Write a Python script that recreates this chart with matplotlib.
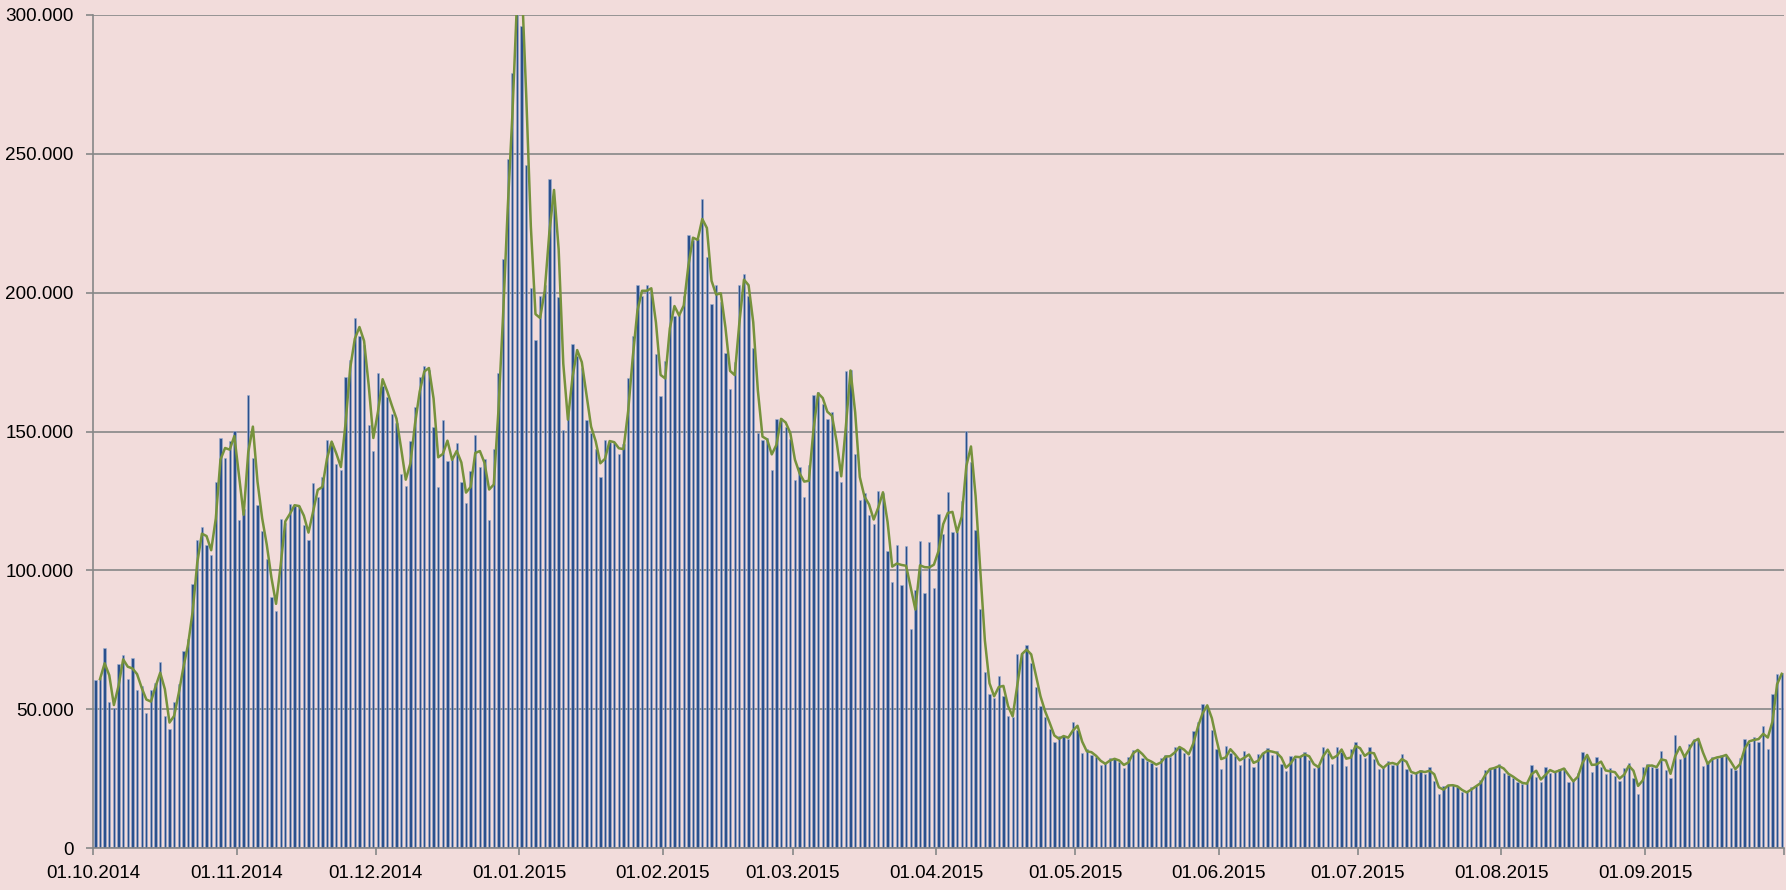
import numpy as np
import pandas as pd
import matplotlib
matplotlib.use('Agg')
import matplotlib.pyplot as plt
from matplotlib.ticker import FuncFormatter

# daily values (thousands), 01.10.2014 - 30.09.2015
oct_nov = [60.6, 61.2, 72.0, 52.6, 50.5, 66.4, 69.6, 61.1, 68.4, 57.0,
           58.5, 48.6, 57.0, 59.5, 66.9, 47.7, 42.8, 52.5, 59.2, 71.0,
           75.5, 95.0, 110.8, 115.7, 109.1, 105.5, 132.0, 147.8, 140.4, 146.6,
           150.2, 118.1, 122.0, 163.2, 140.4, 123.5, 114.2, 104.3, 90.6, 85.4,
           118.4, 117.0, 123.8, 123.2, 123.2, 116.3, 111.0, 131.4, 126.6, 133.6,
           147.0, 145.8]
nov_jan = [138.5, 136.0, 169.8, 175.8, 191.0, 184.3, 181.0, 152.3, 143.1, 171.2,
           166.5, 162.5, 156.3, 153.0, 134.9, 130.5, 146.6, 159.0, 169.7, 173.6,
           172.2, 151.6, 129.9, 154.0, 139.5, 140.2, 145.9, 131.9, 124.2, 135.9,
           148.7, 137.3, 140.2, 118.1, 143.8, 171.2, 212.1, 248.1, 279.1, 330.0,
           296.2, 245.9, 201.7, 182.9, 198.9, 202.6, 241.0, 233.0, 198.3, 150.6,
           158.0, 181.5]
jan_mar = [177.2, 172.8, 154.2, 149.4, 143.6, 133.6, 146.8, 146.4, 146.0, 142.0,
           145.4, 169.2, 184.4, 202.6, 198.8, 202.6, 200.6, 178.0, 162.8, 175.5,
           198.8, 191.6, 192.0, 198.8, 220.7, 218.9, 219.2, 233.9, 212.7, 195.9,
           202.8, 196.8, 178.2, 165.5, 175.2, 202.8, 206.6, 198.8, 180.0, 149.6,
           146.8, 147.6, 136.0, 154.4, 154.8, 151.8, 147.2, 132.6, 137.4, 126.6,
           138.0, 163.2]
mar_apr = [164.4, 159.8, 154.5, 156.9, 135.9, 131.9, 171.8, 172.2, 141.8, 125.5,
           127.8, 119.8, 116.9, 128.5, 127.8, 107.1, 95.7, 109.3, 94.7, 108.7,
           78.8, 93.1, 110.6, 91.8, 110.4, 93.8, 120.2, 113.1, 128.3, 113.9,
           113.7, 125.0, 150.2, 139.1, 114.5, 86.3, 63.4, 55.4, 54.0, 62.1,
           54.8, 47.6, 47.4, 69.8, 70.0, 73.0, 66.6, 58.2, 51.3, 47.4,
           42.8, 38.4, 40.4]
may_jun = [40.4, 39.2, 45.6, 42.6, 34.2, 35.6, 33.6, 33.0, 30.0, 30.8,
           32.4, 32.0, 31.2, 28.8, 33.0, 35.4, 35.4, 32.4, 31.5, 30.8,
           29.4, 32.4, 33.6, 32.7, 36.3, 36.6, 34.4, 33.2, 42.3, 45.3,
           51.9, 51.0, 42.6, 35.6, 28.6, 36.9, 34.4, 33.2, 30.1, 35.1,
           32.4, 29.1, 33.9, 34.2, 36.0, 33.6, 35.1, 30.2, 27.8, 33.3,
           32.6]
jun_aug = [33.0, 34.5, 31.8, 28.8, 29.6, 36.6, 34.4, 30.3, 36.3, 34.8,
           29.7, 35.6, 38.1, 33.9, 32.6, 36.3, 32.1, 28.5, 29.4, 31.4,
           30.0, 30.3, 33.9, 28.4, 26.6, 27.2, 28.2, 26.7, 29.1, 24.2,
           19.7, 22.5, 22.7, 22.7, 21.9, 20.1, 20.1, 22.2, 22.4, 24.5,
           28.2, 28.8, 29.0, 30.2, 27.2, 26.4, 25.2, 24.0, 23.1, 23.4,
           30.0, 25.8]
aug_sep = [23.7, 29.1, 27.2, 27.6, 28.4, 29.0, 23.7, 24.5, 27.0, 34.5,
           32.7, 27.3, 33.0, 29.4, 26.6, 28.8, 26.0, 24.2, 28.8, 30.6,
           25.2, 19.7, 29.1, 30.2, 29.4, 29.0, 35.0, 28.2, 25.4, 40.8,
           32.1, 33.6, 37.5, 39.4, 39.4, 29.6, 31.2, 33.0, 32.4, 33.6,
           33.6, 28.8, 28.2, 32.4, 39.2, 37.8, 40.2, 38.4, 44.0, 35.7,
           55.5, 62.6, 63.0]

values = np.array(oct_nov + nov_jan + jan_mar + mar_apr + may_jun + jun_aug + aug_sep) * 1000
dates = pd.date_range('2014-10-01', periods=len(values), freq='D')
s = pd.Series(values, index=dates)
trend = s.rolling(2).mean()  # 2-day moving average trendline

month_starts = pd.date_range('2014-10-01', '2015-10-01', freq='MS')
tick_pos = [(d - dates[0]).days for d in month_starts]
tick_labels = [d.strftime('%d.%m.%Y') for d in month_starts[:-1]] + ['']

bg = '#F2DCDB'
plt.rcParams['font.family'] = ['Liberation Sans', 'DejaVu Sans']

fig = plt.figure(figsize=(17.86, 8.90), dpi=100, facecolor=bg)
ax = fig.add_axes([0.0521, 0.0469, 0.9468, 0.9363], facecolor=bg)

x = np.arange(len(values)) + 0.5
ax.bar(x, s.values, width=0.5, color='#2A508D', edgecolor='#9FB1D0', linewidth=0.4, zorder=2)
ax.plot(x, trend.values, color='#76923C', linewidth=1.8, zorder=3)

ax.set_xlim(0, len(values))
ax.set_ylim(0, 300000)
ax.set_yticks(np.arange(0, 300001, 50000))
ax.yaxis.set_major_formatter(FuncFormatter(lambda v, p: f'{v:,.0f}'.replace(',', '.')))
ax.set_xticks(tick_pos)
ax.set_xticklabels(tick_labels)

ax.grid(axis='y', color='#878787', linewidth=1.2, zorder=0)
ax.set_axisbelow(True)
for sp in ['top', 'right']:
    ax.spines[sp].set_visible(False)
for sp in ['left', 'bottom']:
    ax.spines[sp].set_color('#878787')
    ax.spines[sp].set_linewidth(1.2)
ax.tick_params(axis='both', colors='#878787', labelcolor='black', labelsize=13.6, length=5, width=1.2)
ax.tick_params(axis='y', pad=9)
ax.tick_params(axis='x', pad=7)

fig.savefig('out.png', dpi=100, facecolor=bg)
